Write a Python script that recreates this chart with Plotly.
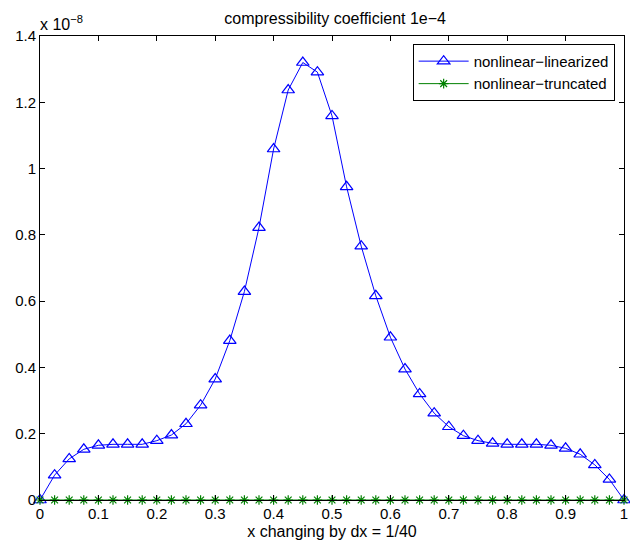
import plotly.graph_objects as go

# x positions: 0 .. 1 in steps of 1/40
x_vals = [i / 40 for i in range(41)]

# values in units of 1e-8
linearized = [0.0, 0.075, 0.124, 0.153, 0.165, 0.168, 0.168, 0.168, 0.179, 0.196,
              0.230, 0.286, 0.365, 0.481, 0.629, 0.822, 1.059, 1.237, 1.320, 1.291,
              1.159, 0.945, 0.766, 0.616, 0.491, 0.395, 0.320, 0.262, 0.221, 0.194,
              0.179, 0.171, 0.168, 0.168, 0.168, 0.165, 0.156, 0.138, 0.106, 0.062,
              0.0]
truncated = [0.0] * 41

x_ticks = [0, 0.1, 0.2, 0.3, 0.4, 0.5, 0.6, 0.7, 0.8, 0.9, 1]
x_ticklabels = ["0", "0.1", "0.2", "0.3", "0.4", "0.5", "0.6", "0.7", "0.8", "0.9", "1"]
y_ticks = [0, 0.2, 0.4, 0.6, 0.8, 1.0, 1.2, 1.4]
y_ticklabels = ["0", "0.2", "0.4", "0.6", "0.8", "1", "1.2", "1.4"]

FONT = "Liberation Sans, Arial, Helvetica, sans-serif"

fig = go.Figure()
fig.add_trace(go.Scatter(
    x=x_vals, y=linearized, mode="lines+markers", name="nonlinear\u2212linearized",
    line=dict(color="#0000ff", width=1),
    marker=dict(symbol="triangle-up-open", size=11, color="#0000ff", line=dict(width=1.2)),
    cliponaxis=False,
))
fig.add_trace(go.Scatter(
    x=x_vals, y=truncated, mode="lines+markers", name="nonlinear\u2212truncated",
    line=dict(color="#008000", width=1),
    marker=dict(symbol="asterisk-open", size=8, color="#008000", line=dict(width=1.2, color="#008000")),
    cliponaxis=False,
))

axis_common = dict(
    showline=True, linecolor="black", linewidth=1, mirror="ticks",
    ticks="inside", ticklen=5, tickcolor="black", tickwidth=1,
    showgrid=False, zeroline=False, ticklabeloverflow="allow",
    tickfont=dict(family=FONT, size=15, color="black"),
)

fig.update_layout(
    width=630, height=544,
    margin=dict(l=40, r=2, t=36, b=44),
    paper_bgcolor="white", plot_bgcolor="white",
    font=dict(family=FONT, color="black"),
    title=dict(text="compressibility coefficient 1e\u22124", x=0.532, xanchor="center",
               y=0.966, yanchor="middle", font=dict(family=FONT, size=16, color="black")),
    xaxis=dict(range=[0, 1], tickvals=x_ticks, ticktext=x_ticklabels,
               title=dict(text="x changing by dx = 1/40", standoff=4,
                          font=dict(family=FONT, size=16, color="black")),
               **axis_common),
    yaxis=dict(range=[0, 1.4], tickvals=y_ticks, ticktext=y_ticklabels, **axis_common),
    legend=dict(x=0.984, y=0.983, xanchor="right", yanchor="top",
                bgcolor="white", bordercolor="black", borderwidth=1,
                font=dict(family=FONT, size=15, color="black"),
                tracegroupgap=0, itemwidth=50),
    showlegend=True,
)

fig.add_annotation(
    text="x 10<sup>\u22128</sup>", xref="paper", yref="paper",
    x=-0.004, y=1.0, xanchor="left", yanchor="bottom", yshift=1,
    showarrow=False, font=dict(family=FONT, size=16, color="black"),
)

fig.write_html("out.html")
